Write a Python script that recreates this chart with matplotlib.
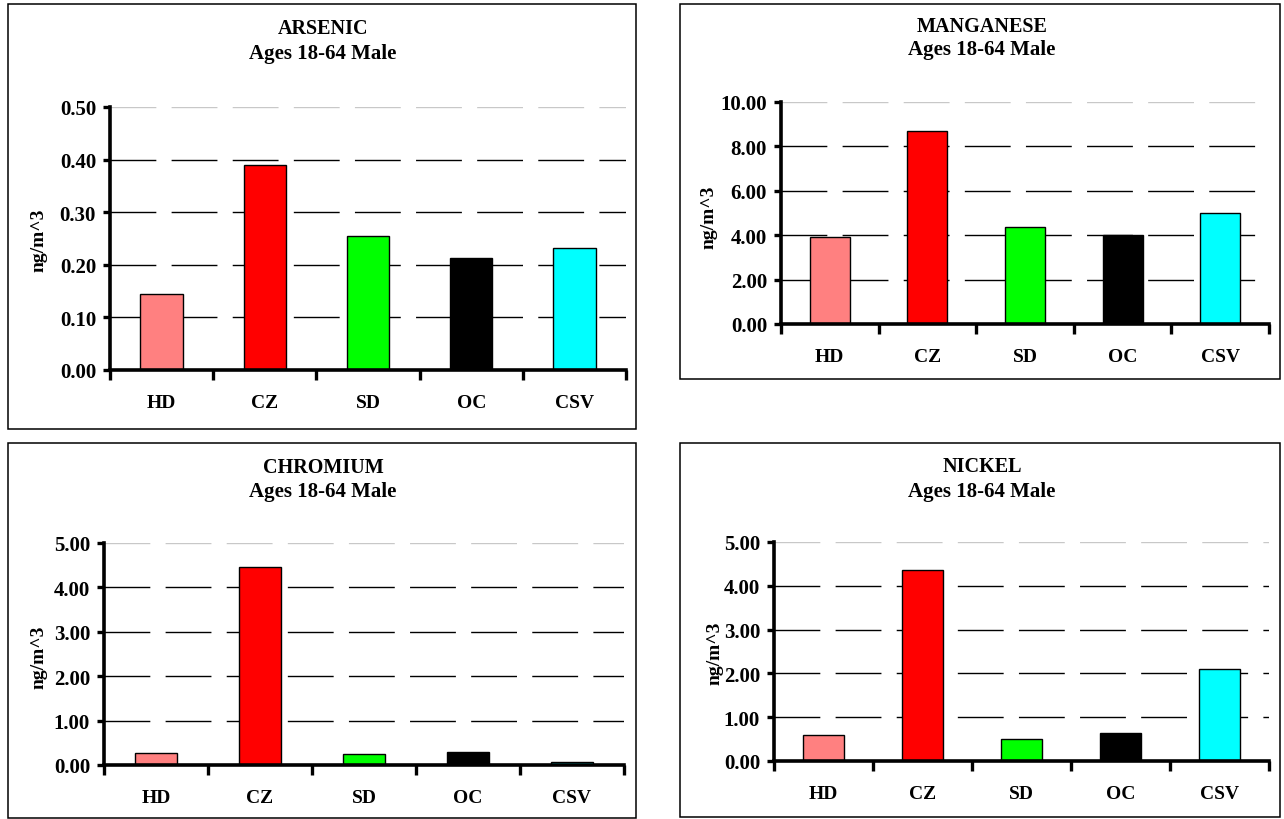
import matplotlib
matplotlib.use("Agg")
import matplotlib.pyplot as plt
from matplotlib.patches import Rectangle
import numpy as np

categories = ["HD", "CZ", "SD", "OC", "CSV"]
bar_colors = ["#FF8080", "#FF0000", "#00FF00", "#000000", "#00FFFF"]

arsenic = [0.145, 0.390, 0.254, 0.213, 0.231]
manganese = [3.93, 8.70, 4.35, 4.02, 5.00]
chromium = [0.28, 4.45, 0.25, 0.29, 0.06]
nickel = [0.60, 4.35, 0.50, 0.65, 2.10]

titles = ["ARSENIC", "MANGANESE", "CHROMIUM", "NICKEL"]
subtitle = "Ages 18-64 Male"
ylabel = "ng/m^3"
yticks_list = [
    [0.0, 0.1, 0.2, 0.3, 0.4, 0.5],
    [0.0, 2.0, 4.0, 6.0, 8.0, 10.0],
    [0.0, 1.0, 2.0, 3.0, 4.0, 5.0],
    [0.0, 1.0, 2.0, 3.0, 4.0, 5.0],
]
series = [arsenic, manganese, chromium, nickel]

W, H = 1284, 820
plt.rcParams['font.family'] = ['Liberation Serif', 'DejaVu Serif']
plt.rcParams['font.weight'] = 'bold'
fig = plt.figure(figsize=(W / 100, H / 100), dpi=100)

# layout in pixels: panel box, axes box, title y, subtitle y, ylabel x/y
layouts = [
    dict(box=(8, 5, 636, 430), ax=(110, 108, 626, 371), t=(323, 29, 54), yl=(39, 240)),
    dict(box=(680, 5, 1280, 380), ax=(781, 103, 1269, 325), t=(982, 27, 50), yl=(709, 217)),
    dict(box=(8, 444, 636, 819), ax=(104, 544, 624, 766), t=(323, 468, 492), yl=(39, 657)),
    dict(box=(680, 444, 1280, 818), ax=(774, 543, 1269, 762), t=(982, 467, 492), yl=(715, 653)),
]

def fx(x):
    return x / W

def fy(y):
    return 1 - y / H

for i, lay in enumerate(layouts):
    bx0, by0, bx1, by1 = lay["box"]
    fig.patches.append(Rectangle((fx(bx0), fy(by1)), fx(bx1 - bx0), (by1 - by0) / H,
                                 transform=fig.transFigure, fill=False,
                                 edgecolor="black", linewidth=1.1))
    ax0, ay0, ax1, ay1 = lay["ax"]
    ax = fig.add_axes([fx(ax0), fy(ay1), fx(ax1 - ax0), (ay1 - ay0) / H])
    yt = yticks_list[i]
    vals = series[i]
    x = np.arange(len(categories)) + 0.5
    ax.bar(x, vals, width=0.41, color=bar_colors, edgecolor="black",
           linewidth=1.0, zorder=3)
    for v in yt[1:]:
        col = "#c8c8c8" if v == yt[-1] else "black"
        ax.axhline(v, color=col, linewidth=1.0, linestyle=(0, (33, 11)), zorder=1)
    ax.set_xlim(0, len(categories))
    ax.set_ylim(yt[0], yt[-1])
    ax.set_yticks(yt)
    ax.set_yticklabels([f"{v:.2f}" for v in yt])
    ax.set_xticks(np.arange(len(categories) + 1))
    ax.set_xticklabels([])
    ax.set_xticks(x, minor=True)
    ax.set_xticklabels(categories, minor=True)
    ax.tick_params(axis="x", which="major", direction="out", length=7, width=2.4)
    ax.tick_params(axis="x", which="minor", length=0, pad=17, labelsize=14)
    ax.tick_params(axis="y", direction="out", length=5, width=2.4, pad=5, labelsize=15)
    for lbl in ax.get_xticklabels(minor=True) + ax.get_yticklabels():
        lbl.set_fontweight("bold")
    for s in ["top", "right"]:
        ax.spines[s].set_visible(False)
    for s in ["left", "bottom"]:
        ax.spines[s].set_linewidth(2.6)
        ax.spines[s].set_zorder(4)
    ax.set_facecolor("none")
    tx, ty1, ty2 = lay["t"]
    fig.text(fx(tx), fy(ty1), titles[i], ha="center", va="center",
             fontsize=14.5, fontweight="bold")
    fig.text(fx(tx), fy(ty2), subtitle, ha="center", va="center",
             fontsize=15, fontweight="bold")
    ylx, yly = lay["yl"]
    fig.text(fx(ylx), fy(yly), ylabel, ha="center", va="center", rotation=90,
             fontsize=14, fontweight="bold")

fig.savefig("out.png", dpi=100)
